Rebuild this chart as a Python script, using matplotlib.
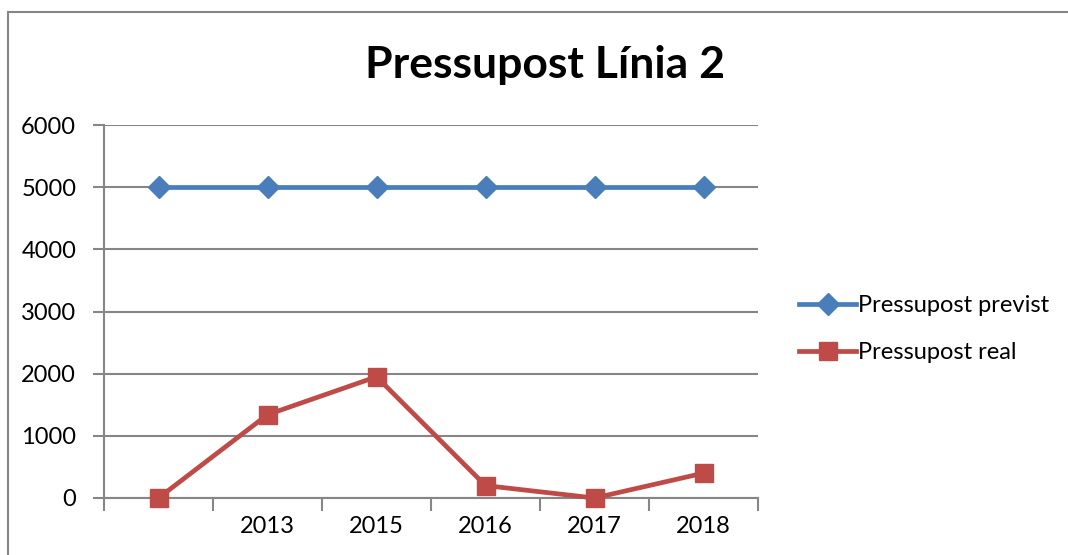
import matplotlib
matplotlib.use("Agg")
import matplotlib.pyplot as plt
from matplotlib.patches import Rectangle

# chart data
categories = ["", "2013", "2015", "2016", "2017", "2018"]
previst = [5000, 5000, 5000, 5000, 5000, 5000]
real = [0, 1340, 1950, 200, 0, 400]

blue = "#4A7EBB"
red = "#BE4B48"
grey = "#868686"

plt.rcParams["font.family"] = ["Lato", "DejaVu Sans"]

fig = plt.figure(figsize=(10.68, 5.55), dpi=100)
ax = fig.add_axes([104 / 1068, 1 - 498 / 555, (758 - 104) / 1068, (498 - 125) / 555])

x = list(range(len(categories)))
ax.plot(x, previst, color=blue, lw=3.4, marker="D", markersize=11,
        label="Pressupost previst", zorder=3, clip_on=False)
ax.plot(x, real, color=red, lw=3.4, marker="s", markersize=13,
        label="Pressupost real", zorder=3, clip_on=False)

ax.set_xlim(-0.5, len(categories) - 0.5)
ax.set_ylim(0, 6000)
ax.set_yticks(range(0, 6001, 1000))

# Excel-style: tick marks between categories, labels centered on them
ax.set_xticks([i - 0.5 for i in range(len(categories) + 1)])
ax.set_xticklabels([])
ax.set_xticks(x, minor=True)
ax.set_xticklabels(categories, minor=True)
ax.tick_params(axis="x", which="major", length=9, width=1.5, color=grey, direction="out")
ax.tick_params(axis="x", which="minor", length=0, pad=13, labelsize=17)
ax.tick_params(axis="y", length=8, width=1.5, color=grey, pad=12, labelsize=17)

ax.grid(axis="y", color=grey, lw=1.5)
ax.set_axisbelow(True)
for side in ["top", "right"]:
    ax.spines[side].set_visible(False)
for side in ["left", "bottom"]:
    ax.spines[side].set_color(grey)
    ax.spines[side].set_linewidth(1.5)

fig.text(545 / 1068, 1 - 65 / 555, "Pressupost Línia 2", ha="center", va="center",
         fontsize=32, fontweight="bold")

fig.legend(loc="center left", bbox_to_anchor=(778 / 1068, 1 - 329 / 555),
           frameon=False, fontsize=17, handlelength=2.4, handletextpad=0.1,
           labelspacing=1.1)

# chart border (only top and left edges fall inside the image)
fig.patches.append(Rectangle((8 / 1068, -0.1), 1.2, 1 - 12 / 555 + 0.1,
                             transform=fig.transFigure, fill=False,
                             edgecolor=grey, lw=1.5))

fig.savefig("out.png", dpi=100)
